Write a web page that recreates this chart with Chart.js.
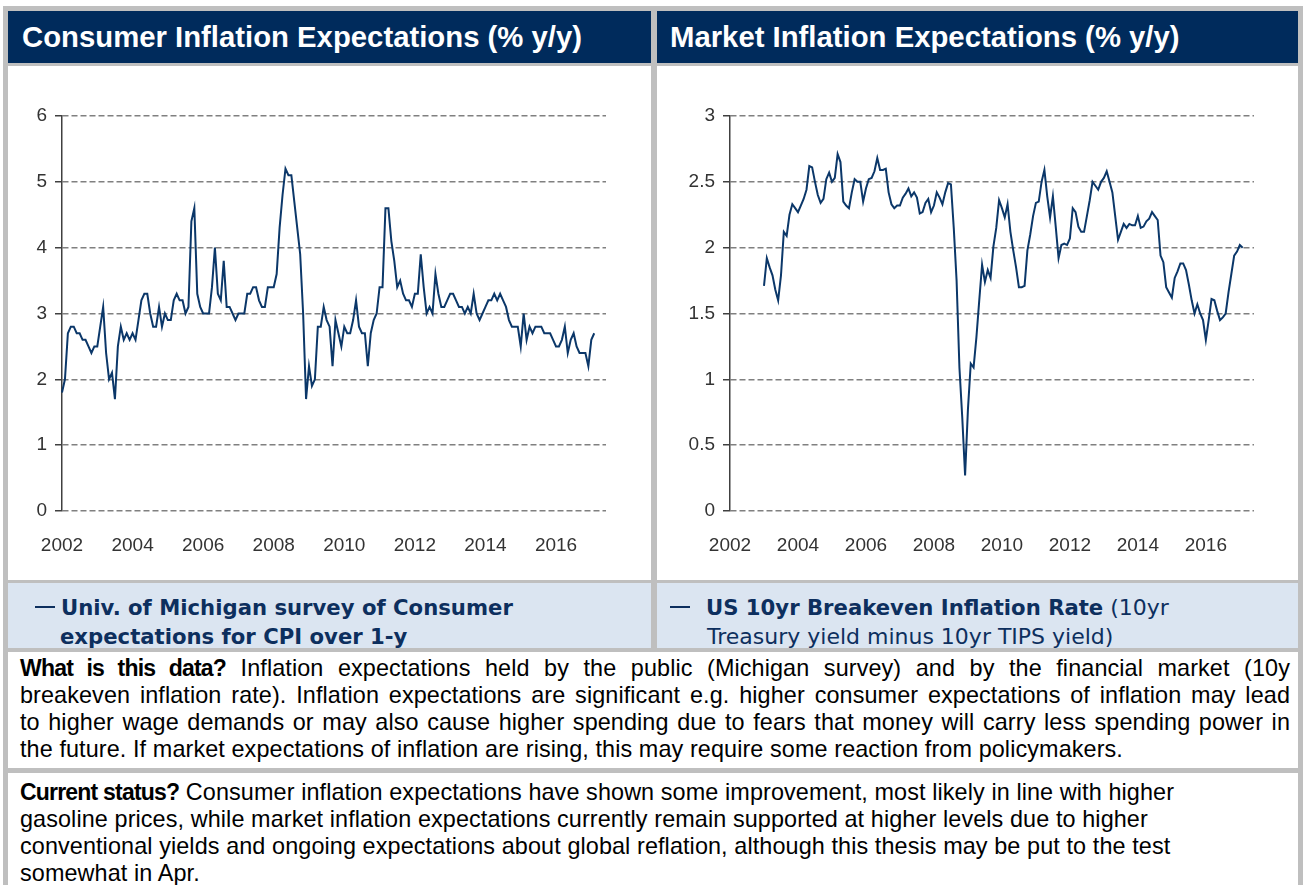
<!DOCTYPE html>
<html>
<head>
<meta charset="utf-8">
<title>Inflation Expectations</title>
<script src="https://cdn.jsdelivr.net/npm/chart.js@4.4.1/dist/chart.umd.min.js"></script>
<style>
  body { margin: 0; width: 1303px; height: 885px; overflow: hidden; background: #fff;
         font-family: "Liberation Sans", Arial, sans-serif; position: relative; }
  .box { position: absolute; box-sizing: border-box; }
  #frame { left: 3px; top: 6px; width: 1300px; height: 879px; background: #bfbfbf; }
  .title { background: #002b5c; color: #fff; font-weight: bold; font-size: 29.3px;
           line-height: 52px; white-space: nowrap; }
  .panel { background: #fff; }
  .legend { background: #dbe5f1; color: #0d2f5e; font-family: "DejaVu Sans", sans-serif;
            font-size: 22px; line-height: 29px; padding-top: 10px; white-space: nowrap; }
  .legend b { font-weight: bold; font-size: 21.2px; }
  .dash { display: inline-block; width: 20px; height: 2px; background: #0d2f5e;
          vertical-align: middle; position: relative; top: -2px; }
  .text { background: #fff; color: #000; font-size: 23.4px; letter-spacing: 0.1px; line-height: 27px;
          padding-left: 12px; padding-right: 8px; }
  .text b { font-size: 23px; letter-spacing: -0.8px; }
  .just { text-align: justify; text-align-last: justify; white-space: nowrap; }
</style>
</head>
<body>
<div class="box" id="frame"></div>

<div class="box title" style="left:8px;top:11px;width:643px;height:52px;padding-left:14px;">Consumer Inflation Expectations (% y/y)</div>
<div class="box title" style="left:657px;top:11px;width:641px;height:52px;padding-left:13px;">Market Inflation Expectations (% y/y)</div>

<div class="box panel" style="left:8px;top:66px;width:643px;height:514px;">
  <canvas id="consumerChart" width="643" height="514"></canvas>
</div>
<div class="box panel" style="left:657px;top:66px;width:641px;height:514px;">
  <canvas id="marketChart" width="641" height="514"></canvas>
</div>

<div class="box legend" style="left:8px;top:583px;width:643px;height:65px;padding-left:27px;">
  <span class="dash" style="margin-right:6px"></span><b>Univ. of Michigan survey of Consumer</b><br>
  <span style="padding-left:25px"><b>expectations for CPI over 1-y</b></span>
</div>
<div class="box legend" style="left:657px;top:583px;width:641px;height:65px;padding-left:13px;">
  <span class="dash" style="margin-right:16px"></span><b>US 10yr Breakeven Inflation Rate</b> (10yr<br>
  <span style="padding-left:37px">Treasury yield minus 10yr TIPS yield)</span>
</div>

<div class="box text" style="left:8px;top:652px;width:1290px;height:116px;padding-top:3px;">
  <div class="just"><b>What is this data?</b> Inflation expectations held by the public (Michigan survey) and by the financial market (10y</div>
  <div class="just">breakeven inflation rate). Inflation expectations are significant e.g. higher consumer expectations of inflation may lead</div>
  <div class="just">to higher wage demands or may also cause higher spending due to fears that money will carry less spending power in</div>
  <div>the future. If market expectations of inflation are rising, this may require some reaction from policymakers.</div>
</div>
<div class="box text" style="left:8px;top:773px;width:1290px;height:112px;padding-top:6px;">
  <b>Current status?</b> Consumer inflation expectations have shown some improvement, most likely in line with higher<br>
  gasoline prices, while market inflation expectations currently remain supported at higher levels due to higher<br>
  conventional yields and ongoing expectations about global reflation, although this thesis may be put to the test<br>
  somewhat in Apr.
</div>

<script>
// Monthly categories run Jan 2002 to Jun 2017 (empty months on the right give the spare room)
var startYear = 2002;
var endYear = 2017;
var endMonth = 6;
var tickYears = ['2002', '2004', '2006', '2008', '2010', '2012', '2014', '2016'];

// Univ. of Michigan 1-y ahead inflation expectations, Jan 2002 - Feb 2017
var michiganValues = [
    1.8, 2.0, 2.7, 2.8, 2.8, 2.7, 2.7, 2.6, 2.6, 2.5, 2.4, 2.5,
    2.5, 2.8, 3.1, 2.4, 2.0, 2.1, 1.7, 2.5, 2.8, 2.6, 2.7, 2.6,
    2.7, 2.6, 2.9, 3.2, 3.3, 3.3, 3.0, 2.8, 2.8, 3.1, 2.8, 3.0,
    2.9, 2.9, 3.2, 3.3, 3.2, 3.2, 3.0, 3.1, 4.4, 4.6, 3.3, 3.1,
    3.0, 3.0, 3.0, 3.4, 4.0, 3.3, 3.2, 3.8, 3.1, 3.1, 3.0, 2.9,
    3.0, 3.0, 3.0, 3.3, 3.3, 3.4, 3.4, 3.2, 3.1, 3.1, 3.4, 3.4,
    3.4, 3.6, 4.3, 4.8, 5.2, 5.1, 5.1, 4.7, 4.3, 3.9, 3.0, 1.7,
    2.2, 1.9, 2.0, 2.8, 2.8, 3.1, 2.9, 2.8, 2.2, 2.9, 2.7, 2.5,
    2.8, 2.7, 2.7, 2.9, 3.2, 2.8, 2.7, 2.7, 2.2, 2.7, 2.9, 3.0,
    3.4, 3.4, 4.6, 4.6, 4.1, 3.8, 3.4, 3.5, 3.3, 3.2, 3.2, 3.1,
    3.3, 3.3, 3.9, 3.4, 3.0, 3.1, 3.0, 3.6, 3.3, 3.1, 3.1, 3.2,
    3.3, 3.3, 3.2, 3.1, 3.1, 3.0, 3.1, 3.0, 3.3, 3.0, 2.9, 3.0,
    3.1, 3.2, 3.2, 3.3, 3.2, 3.3, 3.2, 3.1, 2.9, 2.8, 2.8, 2.8,
    2.5, 3.0, 2.6, 2.8, 2.7, 2.8, 2.8, 2.8, 2.7, 2.7, 2.7, 2.6,
    2.5, 2.5, 2.6, 2.8, 2.4, 2.6, 2.7, 2.5, 2.4, 2.4, 2.4, 2.2,
    2.6, 2.7
];

// US 10yr breakeven inflation rate, Jan 2003 - Feb 2017
var breakevenStart = '2003-01';
var breakevenValues = [
    1.71, 1.92, 1.85, 1.79, 1.68, 1.60, 1.79, 2.12, 2.09, 2.25, 2.33, 2.30,
    2.27, 2.32, 2.37, 2.44, 2.62, 2.61, 2.50, 2.40, 2.34, 2.37, 2.52, 2.57,
    2.50, 2.53, 2.71, 2.65, 2.35, 2.32, 2.30, 2.42, 2.52, 2.50, 2.50, 2.35,
    2.45, 2.52, 2.53, 2.58, 2.68, 2.59, 2.59, 2.60, 2.42, 2.33, 2.30, 2.32,
    2.32, 2.38, 2.41, 2.45, 2.39, 2.42, 2.38, 2.26, 2.27, 2.34, 2.37, 2.27,
    2.32, 2.42, 2.38, 2.33, 2.42, 2.49, 2.48, 2.15, 1.75, 1.09, 0.71, 0.27,
    0.77, 1.12, 1.09, 1.32, 1.60, 1.87, 1.74, 1.83, 1.77, 2.01, 2.15, 2.36,
    2.30, 2.23, 2.33, 2.12, 1.98, 1.85, 1.70, 1.70, 1.71, 1.98, 2.10, 2.24,
    2.34, 2.35, 2.50, 2.59, 2.39, 2.23, 2.39, 2.16, 1.92, 2.02, 2.03, 2.02,
    2.07, 2.30, 2.27, 2.16, 2.12, 2.12, 2.24, 2.36, 2.50, 2.47, 2.44, 2.50,
    2.53, 2.58, 2.50, 2.42, 2.24, 2.06, 2.12, 2.18, 2.15, 2.18, 2.17, 2.17,
    2.24, 2.15, 2.16, 2.20, 2.22, 2.27, 2.24, 2.21, 1.94, 1.89, 1.70, 1.66,
    1.62, 1.77, 1.82, 1.88, 1.88, 1.83, 1.72, 1.60, 1.50, 1.57, 1.50, 1.45,
    1.30, 1.45, 1.61, 1.60, 1.52, 1.45, 1.47, 1.50, 1.66, 1.80, 1.94, 1.97,
    2.02, 2.00
];

// Build the month labels
var months = [];
for (var y = startYear; y <= endYear; y++) {
    for (var m = 1; m <= 12; m++) {
        if (y === endYear && m > endMonth) break;
        months.push(y + '-' + (m < 10 ? '0' + m : m));
    }
}

// Put a series onto the month axis, starting at the given month
function alignSeries(values, firstMonth) {
    var out = [];
    var offset = months.indexOf(firstMonth);
    for (var i = 0; i < months.length; i++) {
        var v = values[i - offset];
        out.push(v === undefined ? null : v);
    }
    return out;
}

var lineColor = '#0b3769';
var tickFont = { family: '"Liberation Sans", Arial, sans-serif', size: 19 };

function makeChart(canvasId, series, yMax, yStep, axisWidth, padRight) {
    var ctx = document.getElementById(canvasId).getContext('2d');
    return new Chart(ctx, {
        type: 'line',
        data: {
            labels: months,
            datasets: [{
                data: series,
                borderColor: lineColor,
                borderWidth: 2,
                pointRadius: 0,
                tension: 0,
                fill: false
            }]
        },
        options: {
            responsive: false,
            animation: false,
            layout: { padding: { top: 50, right: padRight, bottom: 29, left: 0 } },
            plugins: { legend: { display: false }, tooltip: { enabled: false } },
            scales: {
                x: {
                    grid: { display: false },
                    border: { display: false },
                    ticks: {
                        autoSkip: false,
                        maxRotation: 0,
                        padding: 15,
                        color: '#333',
                        font: tickFont,
                        callback: function (value) {
                            var lab = this.getLabelForValue(value);
                            var yr = lab.slice(0, 4);
                            return (lab.slice(5) === '01' && tickYears.indexOf(yr) >= 0) ? yr : '';
                        }
                    },
                    afterFit: function (axis) { axis.height = 40; }
                },
                y: {
                    min: 0,
                    max: yMax,
                    grid: {
                        color: '#808080',
                        lineWidth: 1.5,
                        tickLength: 7,
                        tickColor: '#404040',
                        tickWidth: 1.5,
                        tickBorderDash: []
                    },
                    border: { display: true, color: '#404040', width: 1.5, dash: [6, 3] },
                    ticks: {
                        stepSize: yStep,
                        padding: 8,
                        color: '#333',
                        font: tickFont,
                        callback: function (value) { return String(value); }
                    },
                    afterFit: function (axis) { axis.width = axisWidth; }
                }
            }
        }
    });
}

makeChart('consumerChart', alignSeries(michiganValues, '2002-01'), 6, 1, 54, 45);
makeChart('marketChart', alignSeries(breakevenValues, breakevenStart), 3, 0.5, 73, 44);
</script>
</body>
</html>
